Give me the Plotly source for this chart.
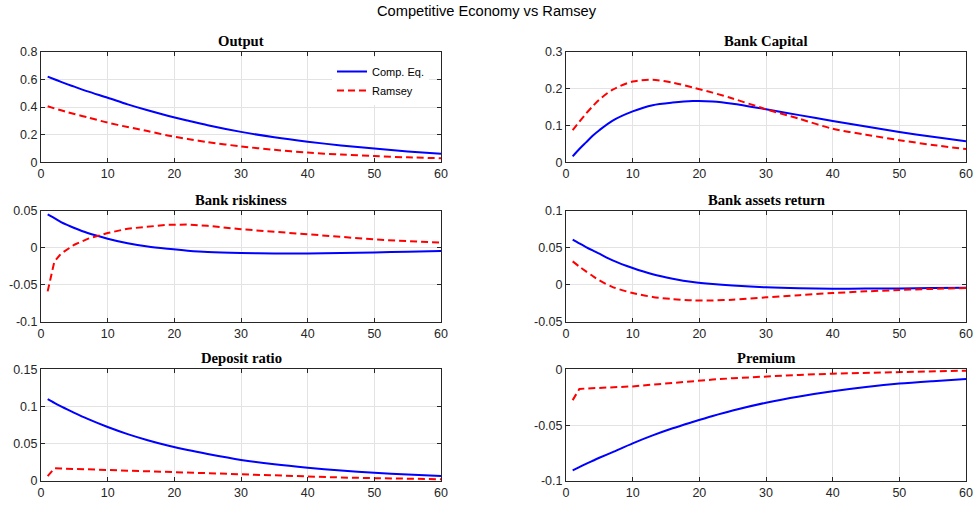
import plotly.graph_objects as go

# ---------------- data ----------------
T = [1, 2, 3, 4, 5, 7, 10, 13, 16, 19, 22, 25, 30, 35, 40, 45, 50, 55, 60]

output_comp = [0.620, 0.601, 0.582, 0.564, 0.547, 0.513, 0.467, 0.419, 0.376, 0.337,
               0.302, 0.268, 0.220, 0.181, 0.149, 0.122, 0.099, 0.079, 0.062]
output_ram = [0.405, 0.390, 0.376, 0.362, 0.349, 0.325, 0.287, 0.255, 0.226, 0.194,
              0.169, 0.146, 0.115, 0.090, 0.070, 0.056, 0.045, 0.036, 0.029]

capital_comp = [0.016, 0.036, 0.054, 0.072, 0.087, 0.113, 0.138, 0.155, 0.162, 0.166,
                0.165, 0.159, 0.144, 0.128, 0.112, 0.097, 0.082, 0.069, 0.057]
capital_ram = [0.087, 0.110, 0.132, 0.152, 0.170, 0.197, 0.219, 0.224, 0.216, 0.203,
               0.189, 0.173, 0.144, 0.118, 0.091, 0.075, 0.060, 0.047, 0.036]

risk_comp = [0.0450, 0.0400, 0.0347, 0.0305, 0.0266, 0.0198, 0.0122, 0.0060, 0.0015, -0.0015,
             -0.0040, -0.0058, -0.0072, -0.0078, -0.0077, -0.0071, -0.0064, -0.0055, -0.0046]
risk_ram = [-0.0590, -0.0190, -0.0080, -0.0014, 0.0040, 0.0120, 0.0198, 0.0257, 0.0288, 0.0310,
            0.0312, 0.0295, 0.0250, 0.0213, 0.0176, 0.0143, 0.0112, 0.0088, 0.0068]

ret_comp = [0.0608, 0.0557, 0.0509, 0.0463, 0.0419, 0.0329, 0.0225, 0.0140, 0.0081, 0.0036,
            0.0008, -0.0012, -0.0036, -0.0049, -0.0054, -0.0053, -0.0050, -0.0045, -0.0040]
ret_ram = [0.0315, 0.0245, 0.0180, 0.0117, 0.0059, -0.0032, -0.0113, -0.0165, -0.0195, -0.0212,
           -0.0212, -0.0203, -0.0171, -0.0141, -0.0113, -0.0090, -0.0072, -0.0057, -0.0045]

dep_comp = [0.1100, 0.1050, 0.1003, 0.0958, 0.0915, 0.0834, 0.0725, 0.0630, 0.0548, 0.0477,
            0.0415, 0.0362, 0.0283, 0.0224, 0.0178, 0.0140, 0.0111, 0.0087, 0.0067]
dep_ram = [0.0065, 0.0170, 0.0168, 0.0165, 0.0162, 0.0156, 0.0145, 0.0135, 0.0125, 0.0115,
           0.0106, 0.0097, 0.0082, 0.0069, 0.0057, 0.0047, 0.0038, 0.0031, 0.0024]

prem_comp = [-0.0904, -0.0875, -0.0846, -0.0819, -0.0792, -0.0741, -0.0663, -0.0592, -0.0528, -0.0472,
             -0.0418, -0.0369, -0.0299, -0.0243, -0.0197, -0.0159, -0.0128, -0.0106, -0.0087]
prem_ram = [-0.0276, -0.0176, -0.0172, -0.0169, -0.0166, -0.0161, -0.0153, -0.0137, -0.0121, -0.0104,
            -0.0092, -0.0080, -0.0063, -0.0050, -0.0039, -0.0031, -0.0024, -0.0017, -0.0012]

titles = ["Output", "Bank Capital", "Bank riskiness", "Bank assets return",
          "Deposit ratio", "Premium"]
series_names = ["Comp. Eq.", "Ramsey"]
comp_series = [output_comp, capital_comp, risk_comp, ret_comp, dep_comp, prem_comp]
ram_series = [output_ram, capital_ram, risk_ram, ret_ram, dep_ram, prem_ram]

x_ticks = [0, 10, 20, 30, 40, 50, 60]
y_ticks = [
    [0, 0.2, 0.4, 0.6, 0.8],
    [0, 0.1, 0.2, 0.3],
    [-0.1, -0.05, 0, 0.05],
    [-0.05, 0, 0.05, 0.1],
    [0, 0.05, 0.1, 0.15],
    [-0.1, -0.05, 0],
]
y_ticktext = [
    ["0", "0.2", "0.4", "0.6", "0.8"],
    ["0", "0.1", "0.2", "0.3"],
    ["-0.1", "-0.05", "0", "0.05"],
    ["-0.05", "0", "0.05", "0.1"],
    ["0", "0.05", "0.1", "0.15"],
    ["-0.1", "-0.05", "0"],
]

# ---------------- layout geometry ----------------
W, H = 974, 507
col_dom = [[41 / W, 441 / W], [566 / W, 966 / W]]
row_px = [(51.7, 162.3), (210.7, 321.7), (369.3, 481.0)]
row_dom = [[1 - b / H, 1 - t / H] for (t, b) in row_px]

AX_COLOR = "#262626"
GRID = "#e3e3e3"
TICK_FONT = dict(family="Liberation Sans, Arial, sans-serif", size=12.5, color=AX_COLOR)
KINKED_RAMSEY = {2, 4, 5}   # panels whose Ramsey path has a sharp first-period jump

fig = go.Figure()
annotations = []
layout_axes = {}

for i in range(6):
    r, c = divmod(i, 2)
    n = i + 1
    xa = "x" if n == 1 else f"x{n}"
    ya = "y" if n == 1 else f"y{n}"
    fig.add_trace(go.Scatter(
        x=T, y=comp_series[i], mode="lines", name=series_names[0],
        line=dict(color="#0000ff", width=2, shape="spline", smoothing=0.8),
        xaxis=xa, yaxis=ya, showlegend=(i == 0)))
    ram_line = dict(color="#ff0000", width=2, dash="7px,4px")
    if i not in KINKED_RAMSEY:
        ram_line.update(shape="spline", smoothing=0.8)
    fig.add_trace(go.Scatter(
        x=T, y=ram_series[i], mode="lines", name=series_names[1],
        line=ram_line, xaxis=xa, yaxis=ya, showlegend=(i == 0)))

    common = dict(showline=True, linecolor=AX_COLOR, linewidth=1, mirror="ticks",
                  ticks="inside", ticklen=4, tickcolor=AX_COLOR, tickwidth=1,
                  showgrid=True, gridcolor=GRID, gridwidth=1, zeroline=False,
                  tickfont=TICK_FONT, automargin=False)
    layout_axes["xaxis" if n == 1 else f"xaxis{n}"] = dict(
        domain=col_dom[c], range=[0, 60], tickmode="array", tickvals=x_ticks,
        anchor=ya, **common)
    layout_axes["yaxis" if n == 1 else f"yaxis{n}"] = dict(
        domain=row_dom[r], range=[y_ticks[i][0], y_ticks[i][-1]], tickmode="array",
        tickvals=y_ticks[i], ticktext=y_ticktext[i], anchor=xa, **common)

    annotations.append(dict(
        text=f"<b>{titles[i]}</b>", xref="paper", yref="paper",
        x=(col_dom[c][0] + col_dom[c][1]) / 2, y=row_dom[r][1] + 1 / H,
        xanchor="center", yanchor="bottom", showarrow=False,
        font=dict(family="Liberation Serif, Times New Roman, serif", size=14.67, color="#000000")))

annotations.append(dict(
    text="Competitive Economy vs Ramsey", xref="paper", yref="paper",
    x=0.5, y=1 - 1 / H, xanchor="center", yanchor="top", showarrow=False,
    font=dict(family="Liberation Sans, Arial, sans-serif", size=14.67, color="#000000")))

fig.update_layout(
    width=W, height=H, margin=dict(l=0, r=0, t=0, b=0, pad=0, autoexpand=False),
    paper_bgcolor="white", plot_bgcolor="white",
    annotations=annotations,
    legend=dict(x=332 / W, y=1 - 57 / H, xanchor="left", yanchor="top",
                bgcolor="rgba(255,255,255,1)", borderwidth=0,
                font=dict(family="Liberation Sans, Arial, sans-serif", size=11, color="#000000"),
                tracegroupgap=0),
    **layout_axes,
)

fig.write_html(
    "out.html",
    config={"displayModeBar": False},
    post_script="document.body.style.margin='0';document.body.style.padding='0';"
                "document.body.style.overflow='hidden';",
)
